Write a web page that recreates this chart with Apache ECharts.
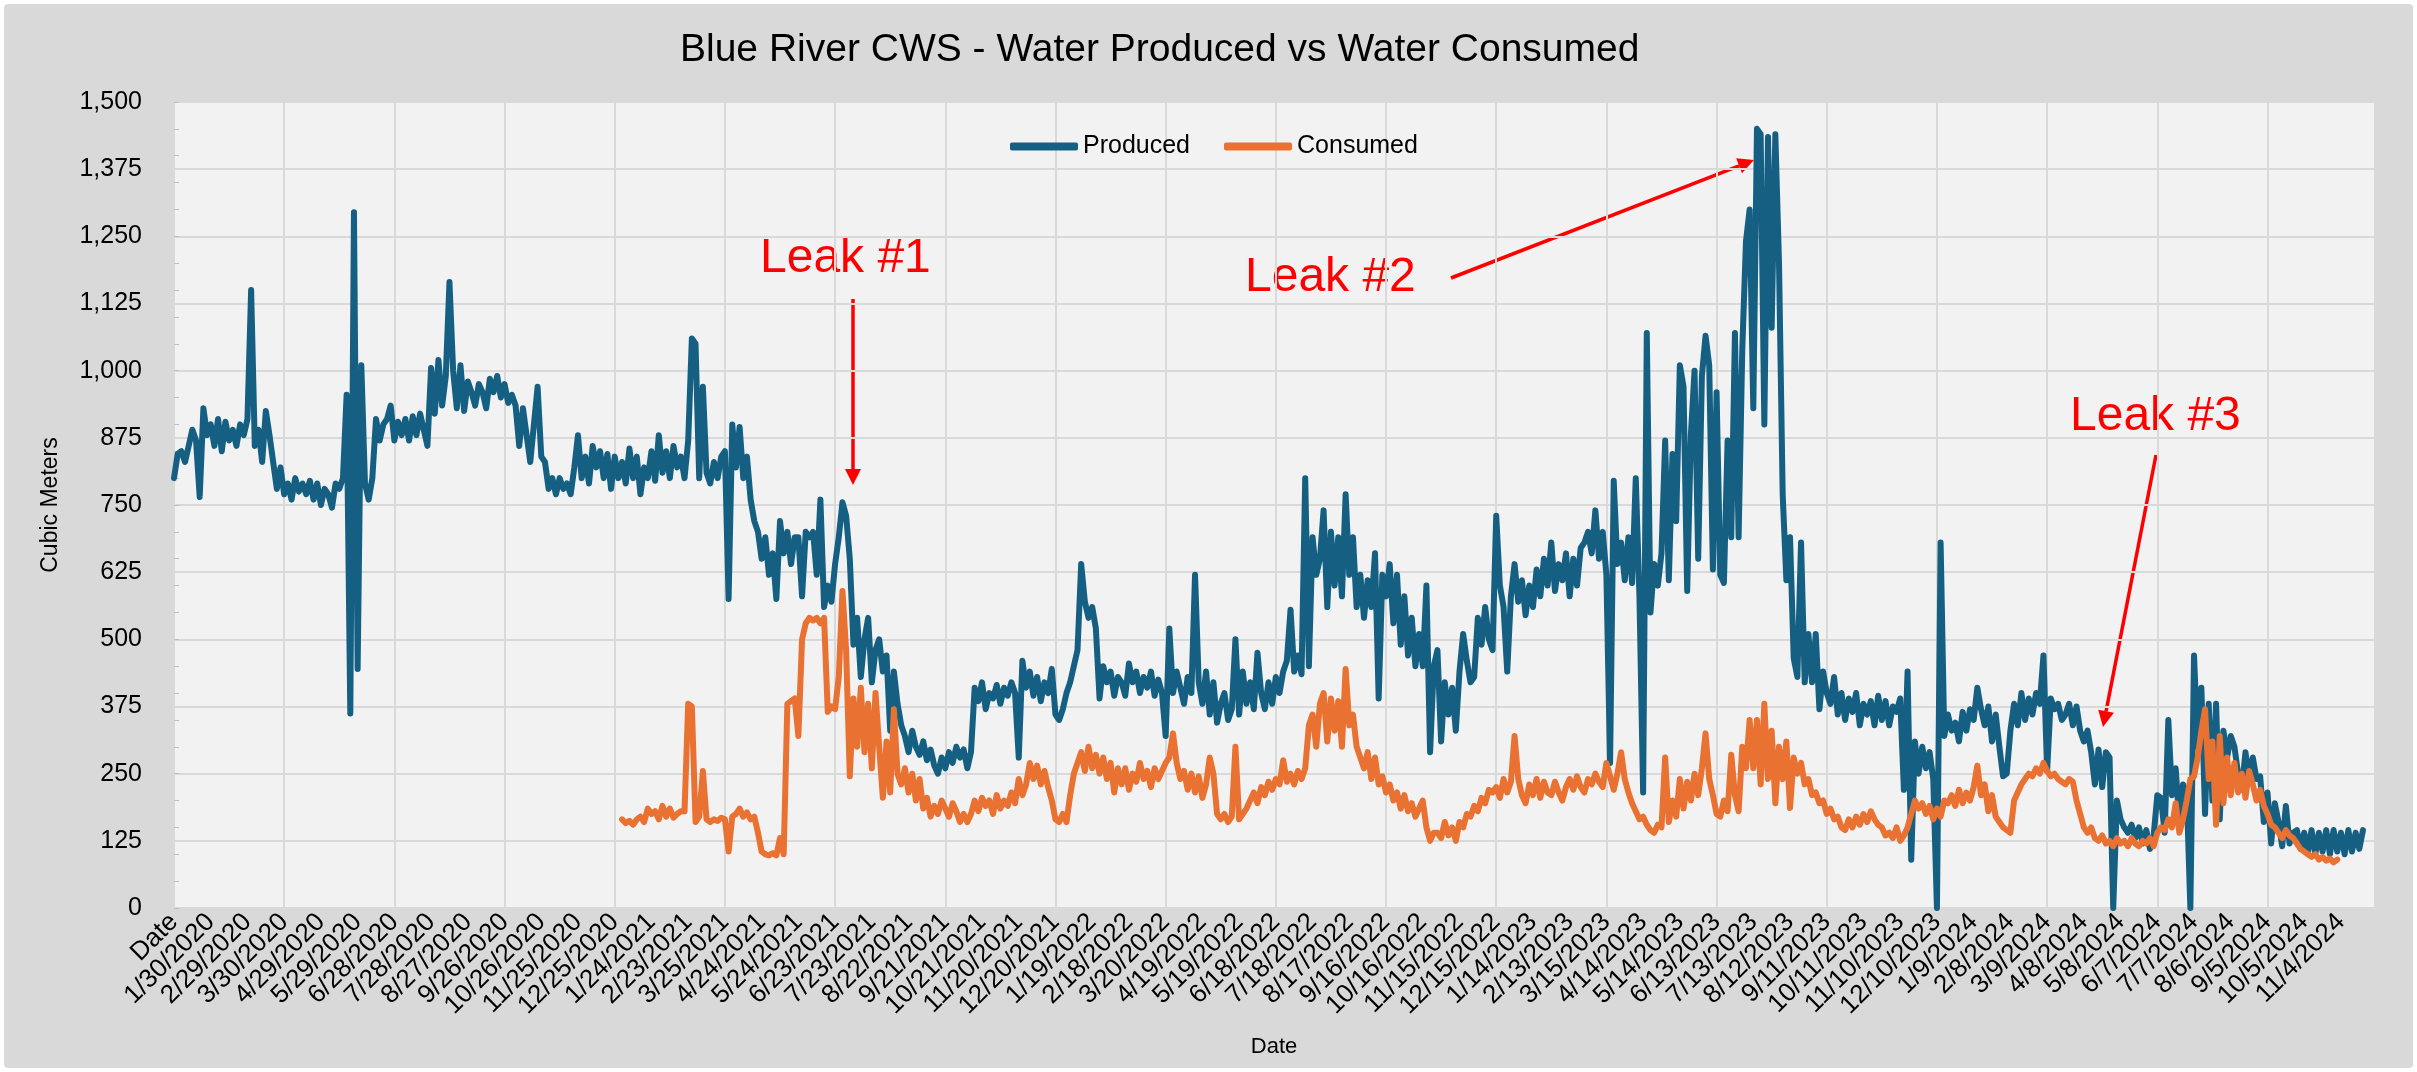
<!DOCTYPE html>
<html>
<head>
<meta charset="utf-8">
<title>Blue River CWS - Water Produced vs Water Consumed</title>
<script src="https://cdn.jsdelivr.net/npm/echarts@6.0.0/dist/echarts.min.js"></script>
<style>
  html, body { margin: 0; padding: 0; background: #fff; }
  .frame { position: absolute; left: 4px; top: 4px; width: 2409px; height: 1064px; background: #d9d9d9; border-radius: 4px; }
  #chart { position: absolute; left: 0; top: 0; width: 2417px; height: 1072px; }
</style>
</head>
<body>
<div class="frame"></div>
<div id="chart"></div>
<script>
// one category every 3 days, first cell is the "Date" header Excel picked up
const STEP = 3;
const LAST_K = 599;

const dates = ['Date'];
for (let k = 1; k <= LAST_K; k++) {
  const d = new Date(2019, 11, 31 + k * STEP);
  dates.push((d.getMonth() + 1) + '/' + d.getDate() + '/' + d.getFullYear());
}

const yTicks = [0, 125, 250, 375, 500, 625, 750, 875, 1000, 1125, 1250, 1375, 1500];

// Produced, from the first category on
const produced = [
  800, 845, 850, 830, 860, 890, 870, 765, 930, 880,
  900, 860, 910, 850, 905, 870, 890, 860, 900, 880,
  910, 1150, 860, 890, 830, 925, 880, 830, 780, 820,
  770, 790, 760, 800, 775, 790, 770, 795, 760, 790,
  750, 780, 770, 745, 790, 780, 800, 955, 362, 1295,
  445, 1010, 790, 760, 800, 910, 870, 900, 910, 935,
  870, 905, 880, 910, 870, 915, 880, 920, 890, 860,
  1005, 920, 1020, 935, 990, 1165, 1000, 930, 1010, 925,
  980, 960, 935, 975, 960, 930, 985, 960, 990, 950,
  975, 940, 955, 935, 860, 930, 880, 830, 900, 970,
  840, 830, 780, 800, 770, 800, 780, 790, 770, 820,
  880, 800, 840, 790, 860, 820, 850, 800, 845, 780,
  840, 800, 830, 790, 855, 800, 840, 770, 820, 800,
  850, 795, 880, 810, 850, 800, 860, 820, 840, 800,
  870, 1060, 1050, 800, 970, 810, 790, 830, 800, 840,
  850, 575, 900, 820, 895, 800, 840, 760, 720, 700,
  650, 690, 620, 660, 575, 720, 660, 700, 640, 690,
  690, 580, 700, 690, 700, 620, 760, 560, 600, 570,
  640, 690, 755, 730, 650, 490, 540, 430, 500, 540,
  420, 480, 500, 440, 470, 330, 440, 380, 340, 320,
  290, 330, 300, 285, 310, 275, 295, 265, 250, 280,
  260, 290, 270, 300, 280, 295, 260, 290, 410, 385,
  420, 370, 400, 390, 415, 380, 410, 395, 420, 400,
  280, 460, 410, 440, 395, 430, 385, 420, 400, 445,
  360, 350, 370, 400, 420, 450, 480, 640, 570, 540,
  560, 520, 390, 450, 420, 440, 395, 430, 420, 395,
  455, 420, 440, 400, 430, 410, 440, 395, 425, 400,
  320, 520, 400, 440, 410, 380, 430, 400, 620, 420,
  380, 440, 360, 420, 345, 380, 400, 350, 370, 500,
  360, 440, 380, 420, 370, 475, 400, 370, 420, 380,
  430, 400, 440, 460, 555, 440, 470, 435, 800, 450,
  690, 620, 650, 740, 560, 700, 600, 690, 580, 770,
  620, 690, 560, 620, 540, 610, 560, 660, 390, 620,
  580, 640, 530, 620, 490, 580, 470, 540, 450, 510,
  450, 600, 290, 450, 480, 310, 420, 360, 410, 330,
  440, 510, 460, 420, 430, 540, 490, 560, 500, 480,
  730, 600, 560, 440, 580, 640, 570, 610, 545, 600,
  560, 630, 580, 650, 600, 680, 590, 640, 610, 660,
  580, 650, 600, 670, 680, 700, 660, 740, 650, 700,
  620, 270, 795, 640, 680, 610, 690, 605, 800, 580,
  215, 1070, 550, 640, 600, 660, 870, 610, 845, 720,
  1010, 970, 590, 880, 1000, 650, 990, 1065, 1010, 630,
  960, 620, 605, 870, 690, 1070, 690, 1040, 1240, 1300,
  930, 1450, 1440, 900, 1435, 1080, 1440, 1200, 770, 610,
  690, 465, 430, 680, 420, 510, 420, 510, 370, 440,
  400, 380, 430, 360, 400, 350, 390, 365, 400, 340,
  380, 360, 385, 340, 395, 350, 385, 340, 375, 365,
  390, 220, 440, 90, 310, 250, 300, 260, 290, 240,
  0, 680, 320, 360, 330, 345, 310, 365, 330, 370,
  350, 410, 370, 340, 375, 310, 360, 300, 245, 250,
  330, 380, 340, 400, 350, 390, 360, 400, 380, 470,
  255, 390, 370, 380, 350, 360, 380, 340, 375, 330,
  310, 330, 290, 230, 295, 225, 290, 280, 0, 200,
  165, 150, 140, 155, 130, 150, 120, 145, 110, 135,
  210, 205, 140, 350, 210, 260, 160, 230, 215, 0,
  470, 300, 410, 175, 380, 200, 380, 165, 330, 280,
  320, 300, 250, 220, 290, 240, 280, 240, 245, 160,
  215, 120, 195, 160, 115, 190, 120, 140, 145, 110,
  140, 105, 145, 100, 140, 105, 145, 100, 145, 105,
  140, 100, 145, 105, 140, 110, 145
];

// Consumed only starts in December 2020
const consumedStart = 122;
const consumed = [
  165, 158, 162, 155, 165, 170, 160, 185,
  175, 180, 165, 190, 170, 185, 168, 175, 180, 180,
  380, 375, 160, 170, 255, 165, 160, 165, 162, 168,
  165, 105, 170, 175, 185, 170, 178, 165, 170, 140,
  105, 100, 98, 102, 98, 130, 100, 380, 385, 390,
  320, 500, 530, 540, 535, 540, 530, 540, 365, 375,
  370, 430, 590, 480, 245, 390, 300, 410, 290, 380,
  260, 400, 300, 205, 310, 215, 370, 250, 230, 260,
  215, 250, 200, 240, 185, 205, 170, 190, 175, 200,
  185, 170, 195, 180, 160, 175, 160, 175, 200, 180,
  205, 190, 200, 175, 210, 185, 200, 190, 215, 195,
  240, 210, 230, 270, 240, 265, 230, 255, 225, 200,
  165, 160, 175, 160, 210, 250, 270, 290, 255, 300,
  260, 285, 250, 280, 240, 270, 215, 260, 230, 260,
  220, 250, 235, 270, 240, 255, 225, 260, 240, 255,
  270, 280, 325, 270, 240, 255, 220, 250, 215, 245,
  205, 230, 280, 250, 175, 165, 175, 160, 170, 300,
  165, 175, 185, 200, 215, 195, 225, 210, 235, 220,
  240, 230, 275, 235, 250, 230, 255, 240, 260, 340,
  360, 300, 380, 400, 310, 390, 330, 385, 300, 445,
  340, 360, 300, 280, 260, 290, 240, 280, 230, 245,
  215, 230, 200, 215, 185, 210, 180, 195, 170, 185,
  200, 150, 125, 140, 140, 130, 160, 135, 150, 125,
  160, 150, 175, 170, 190, 180, 205, 195, 220, 215,
  225, 205, 240, 215, 235, 320, 240, 210, 195, 230,
  210, 240, 205, 235, 215, 210, 235, 215, 200, 225,
  240, 220, 245, 225, 215, 240, 230, 250, 235, 225,
  270, 245, 220, 250, 290, 240, 215, 195, 180, 165,
  170, 155, 145, 140, 155, 150, 280, 160, 200, 170,
  240, 185, 235, 200, 250, 210, 260, 325, 240, 210,
  175, 170, 200, 180, 285, 210, 180, 300, 260, 350,
  260, 350, 230, 380, 240, 330, 195, 300, 240, 310,
  186, 280, 250, 270, 230, 240, 210, 215, 195, 200,
  175, 185, 165, 170, 150, 145, 165, 150, 170, 155,
  175, 160, 180, 165, 155, 150, 135, 140, 130, 150,
  125, 135, 150, 175, 200, 185, 195, 175, 190, 165,
  185, 170, 200, 195, 210, 190, 220, 195, 215, 200,
  225, 265, 210, 230, 180, 210, 170, 160, 150, 145,
  140, 200, 215, 230, 240, 250, 245, 260, 250, 270,
  255, 245, 250, 240, 235, 230, 240, 235, 200, 175,
  150, 140, 150, 130, 125, 135, 120, 125, 115, 130,
  120, 125, 115, 130, 120, 115, 125, 120, 130, 115,
  140, 150, 145, 165, 150, 195, 140, 165, 200, 240,
  245, 280, 330, 370, 240, 310, 155, 320, 195, 280,
  210, 270, 215, 250, 205, 255, 230, 200, 220, 190,
  175, 155, 150, 140, 130, 145, 135, 130, 120, 110,
  105, 100, 95, 100, 90, 95, 88, 92, 85, 90
];

const BLUE = '#156082';
const ORANGE = '#e97132';
const RED = '#ff0000';
const FONT = '"Liberation Sans", Arial, sans-serif';

function arrow(x1, y1, x2, y2) {
  const a = Math.atan2(y2 - y1, x2 - x1);
  const len = 16, half = 8;
  const bx = x2 - len * Math.cos(a), by = y2 - len * Math.sin(a);
  return [
    { type: 'line', shape: { x1: x1, y1: y1, x2: bx, y2: by }, style: { stroke: RED, lineWidth: 3.5 } },
    { type: 'polygon', shape: { points: [[x2, y2], [bx - half * Math.sin(a), by + half * Math.cos(a)], [bx + half * Math.sin(a), by - half * Math.cos(a)]] }, style: { fill: RED } }
  ];
}

function label(text, x, y) {
  return {
    type: 'text', x: x, y: y,
    style: { text: text, font: '48px ' + FONT, fill: RED, align: 'left', verticalAlign: 'middle', textAlign: 'left', textVerticalAlign: 'middle' }
  };
}

const chart = echarts.init(document.getElementById('chart'));
chart.setOption({
  animation: false,
  backgroundColor: 'transparent',
  title: {
    text: 'Blue River CWS - Water Produced vs Water Consumed',
    left: 675, top: 26,
    textStyle: { fontFamily: FONT, fontSize: 39, fontWeight: 'normal', color: '#000' }
  },
  legend: {
    left: 1005, top: 129,
    icon: 'roundRect', itemWidth: 68, itemHeight: 8, itemGap: 34,
    selectedMode: false,
    textStyle: { fontFamily: FONT, fontSize: 25, color: '#000' },
    data: ['Produced', 'Consumed']
  },
  grid: {
    left: 174, right: 43, top: 102, bottom: 164,
    show: true, backgroundColor: '#f2f2f2', borderWidth: 0
  },
  xAxis: {
    type: 'category',
    data: dates,
    boundaryGap: false,
    name: 'Date', nameLocation: 'middle', nameGap: 128,
    nameTextStyle: { fontFamily: FONT, fontSize: 22, color: '#000' },
    axisLine: { show: false },
    axisTick: { show: false },
    axisLabel: { interval: 9, rotate: 45, margin: 10, fontFamily: FONT, fontSize: 26, color: '#000' },
    splitLine: { show: true, interval: 29, lineStyle: { color: '#d9d9d9', width: 2 } }
  },
  yAxis: [
    {
      type: 'value', min: yTicks[0], max: yTicks[yTicks.length - 1], interval: yTicks[1] - yTicks[0],
      name: 'Cubic Meters', nameLocation: 'middle', nameGap: 112,
      nameTextStyle: { fontFamily: FONT, fontSize: 23, color: '#000' },
      axisLine: { show: false },
      axisTick: { show: false },
      axisLabel: { margin: 32, fontFamily: FONT, fontSize: 25, color: '#000', formatter: v => v.toLocaleString('en-US') },
      splitLine: { lineStyle: { color: '#d9d9d9', width: 2 } }
    },
    {
      // small tick marks every 50 along the left edge
      type: 'value', min: 0, max: 1500, interval: 50, position: 'left',
      axisLine: { show: false },
      axisTick: { show: true, inside: true, length: 5, lineStyle: { color: '#bfbfbf' } },
      axisLabel: { show: false },
      splitLine: { show: false }
    }
  ],
  series: [
    {
      name: 'Produced', type: 'line', data: produced, symbol: 'none',
      itemStyle: { color: BLUE },
      lineStyle: { color: BLUE, width: 6, join: 'round', cap: 'round' }
    },
    {
      name: 'Consumed', type: 'line',
      data: new Array(consumedStart).fill(null).concat(consumed),
      symbol: 'none',
      itemStyle: { color: ORANGE },
      lineStyle: { color: ORANGE, width: 6, join: 'round', cap: 'round' }
    }
  ],
  graphic: [
    label('Leak #1', 760, 259),
    label('Leak #2', 1245, 278),
    label('Leak #3', 2070, 417),
    ...arrow(853, 299, 853, 485),
    ...arrow(1451, 278, 1754, 160),
    ...arrow(2156, 455, 2103, 727)
  ]
});
</script>
</body>
</html>
